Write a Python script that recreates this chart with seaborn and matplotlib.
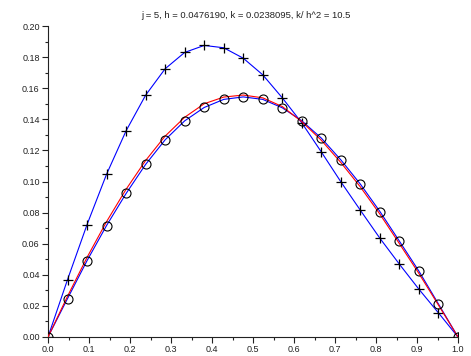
import numpy as np
import pandas as pd
import matplotlib
matplotlib.use("Agg")
import matplotlib.pyplot as plt
import seaborn as sns
from matplotlib.ticker import MultipleLocator

# grid points x_i = i/21
x = [i / 21 for i in range(22)]

# unstable explicit scheme (blue line, + markers)
y_plus = [0.0, 0.0369, 0.0723, 0.1047, 0.1326, 0.1555, 0.1725, 0.1830, 0.1875, 0.1860,
          0.1793, 0.1686, 0.1538, 0.1377, 0.1190, 0.0998, 0.0815, 0.0635, 0.0468,
          0.0307, 0.0155, 0.0]

# scheme (blue line, o markers)
y_circ = [0.0, 0.0247, 0.0491, 0.0717, 0.0923, 0.1110, 0.1268, 0.1390, 0.1476, 0.1528,
          0.1544, 0.1528, 0.1474, 0.1390, 0.1279, 0.1139, 0.0983, 0.0807, 0.0616,
          0.0423, 0.0212, 0.0]

# exact solution (red curve)
y_exact = [0.0, 0.0262, 0.0512, 0.0742, 0.0950, 0.1135, 0.1292, 0.1413, 0.1500, 0.1543,
           0.1556, 0.1538, 0.1482, 0.1385, 0.1265, 0.1122, 0.0965, 0.0790, 0.0600,
           0.0408, 0.0205, 0.0]

title = "j = 5, h = 0.0476190, k = 0.0238095, k/ h^2 = 10.5"

sns.set_style("ticks")
plt.rcParams['font.family'] = ['Liberation Sans', 'DejaVu Sans']

fig = plt.figure(figsize=(4.71, 3.56), dpi=100)
ax = fig.add_axes([48 / 471, 19 / 356, 410 / 471, 311 / 356])

df = pd.DataFrame({"x": x, "plus": y_plus, "circ": y_circ, "exact": y_exact})

sns.lineplot(data=df, x="x", y="plus", ax=ax, color="blue", lw=0.8, sort=False,
             marker="+", markersize=7, markeredgecolor="black", markeredgewidth=0.9, zorder=2)
sns.lineplot(data=df, x="x", y="circ", ax=ax, color="blue", lw=0.8, sort=False, zorder=2)
sns.lineplot(data=df, x="x", y="exact", ax=ax, color="red", lw=0.8, sort=False, zorder=3)
sns.lineplot(data=df, x="x", y="circ", ax=ax, color="blue", lw=0, sort=False,
             marker="o", markersize=6.5, markerfacecolor="none",
             markeredgecolor="black", markeredgewidth=0.8, zorder=4)

ax.set_xlim(0, 1)
ax.set_ylim(0, 0.20)
ax.xaxis.set_major_locator(MultipleLocator(0.1))
ax.xaxis.set_minor_locator(MultipleLocator(0.05))
ax.yaxis.set_major_locator(MultipleLocator(0.02))
ax.yaxis.set_minor_locator(MultipleLocator(0.01))
ax.xaxis.set_major_formatter(matplotlib.ticker.FormatStrFormatter('%.1f'))
ax.yaxis.set_major_formatter(matplotlib.ticker.FormatStrFormatter('%.2f'))
ax.set_xlabel("")
ax.set_ylabel("")
sns.despine(ax=ax)
for s in ["left", "bottom"]:
    ax.spines[s].set_linewidth(0.8)
    ax.spines[s].set_color("#222222")
ax.tick_params(which="major", length=4, width=0.8, labelsize=6.5, colors="#222222", pad=2)
ax.tick_params(which="minor", length=2.5, width=0.8, colors="#222222")
ax.set_title(title, fontsize=6.8, x=0.483, pad=6, color="#222222")

fig.savefig("out.png", dpi=100)
